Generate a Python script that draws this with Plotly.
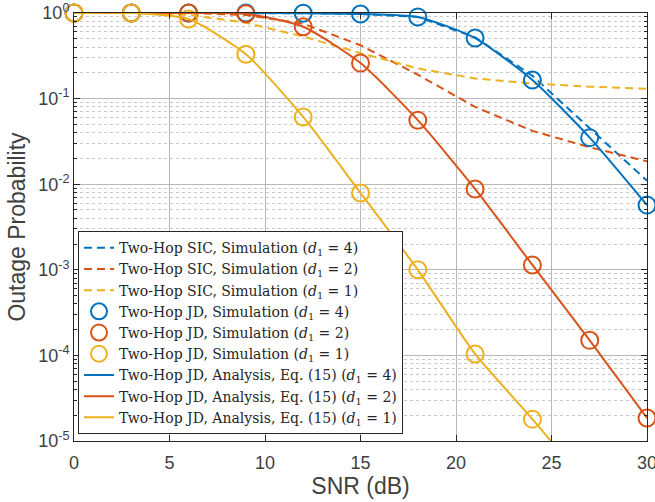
import plotly.graph_objects as go

snr = [0, 3, 6, 9, 12, 15, 18, 21, 24, 27, 30]

# Two-Hop SIC, simulation (dashed)
sic_d4 = [1, 1, 1, 1, 0.995, 0.975, 0.90, 0.52, 0.185, 0.045, 0.011]
sic_d2 = [1, 1, 1, 0.95, 0.75, 0.42, 0.19, 0.08, 0.042, 0.027, 0.0185]
sic_d1 = [1, 1, 0.95, 0.77, 0.53, 0.34, 0.225, 0.172, 0.15, 0.138, 0.13]

# Two-Hop JD, simulation (circles)
jd_sim_d4 = [1, 1, 1, 1, 0.995, 0.975, 0.90, 0.51, 0.165, 0.035, 0.0057]
jd_sim_d2 = [1, 1, 1, 0.98, 0.69, 0.26, 0.056, 0.0088, 0.00114, 0.00015, 1.86e-5]
snr_sim_d1 = [0, 3, 6, 9, 12, 15, 18, 21, 24]
jd_sim_d1 = [1, 1, 0.85, 0.33, 0.061, 0.0079, 0.001, 1.04e-4, 1.8e-5]

# Two-Hop JD, analysis Eq. (15) (solid)
jd_an_d4 = [1, 1, 1, 1, 0.995, 0.975, 0.90, 0.51, 0.165, 0.035, 0.0057]
jd_an_d2 = [1, 1, 1, 0.98, 0.69, 0.26, 0.056, 0.0088, 0.00114, 0.00015, 1.86e-5]
jd_an_d1 = [1, 1, 0.85, 0.33, 0.061, 0.0079, 0.001, 1.04e-4, 1.8e-5, 2.9e-6, 4.5e-7]

ytick_vals = [1e-5, 1e-4, 1e-3, 1e-2, 1e-1, 1]
ytick_text = ["10<sup>-5</sup>", "10<sup>-4</sup>", "10<sup>-3</sup>",
              "10<sup>-2</sup>", "10<sup>-1</sup>", "10<sup>0</sup>"]

colors = {4: "#0072BD", 2: "#D95319", 1: "#EDB120"}

def lab(kind, d):
    return f"Two-Hop {kind} (<i>d</i><sub>1</sub> = {d})"

fig = go.Figure()

for d, ys in [(4, sic_d4), (2, sic_d2), (1, sic_d1)]:
    fig.add_trace(go.Scatter(x=snr, y=ys, mode="lines",
                             line=dict(color=colors[d], width=2, dash="8px,5px"),
                             name=lab("SIC, Simulation", d)))

for d, xs, ys in [(4, snr, jd_sim_d4), (2, snr, jd_sim_d2), (1, snr_sim_d1, jd_sim_d1)]:
    fig.add_trace(go.Scatter(x=xs, y=ys, mode="markers", cliponaxis=False,
                             marker=dict(symbol="circle-open", size=17,
                                         color=colors[d], line=dict(width=2, color=colors[d])),
                             name=lab("JD, Simulation", d)))

for d, ys in [(4, jd_an_d4), (2, jd_an_d2), (1, jd_an_d1)]:
    fig.add_trace(go.Scatter(x=snr, y=ys, mode="lines",
                             line=dict(color=colors[d], width=2, shape="spline", smoothing=0.6),
                             name=lab("JD, Analysis, Eq. (15)", d)))

minor_vals = [m * 10.0 ** e for e in range(-5, 0) for m in range(2, 10)]

fig.update_layout(
    width=655, height=502,
    margin=dict(l=74, r=8, t=13, b=61),
    paper_bgcolor="white", plot_bgcolor="white",
    font=dict(family="Liberation Sans, Arial, sans-serif", color="#262626", size=15),
    showlegend=True,
    legend=dict(x=0.007, y=0.016, xanchor="left", yanchor="bottom",
                bgcolor="white", bordercolor="#262626", borderwidth=1,
                font=dict(family="DejaVu Serif, serif", size=14, color="#262626"),
                tracegroupgap=0, itemwidth=30),
)

fig.update_xaxes(
    range=[0, 30], dtick=5, tick0=0, automargin=False, ticklabeloverflow="allow",
    ticklabelstandoff=5,
    showline=True, linecolor="#262626", linewidth=1, mirror="ticks",
    ticks="inside", ticklen=6, tickcolor="#262626",
    showgrid=True, gridcolor="#b8b8b8", gridwidth=1,
    zeroline=False,
    tickfont=dict(size=18, color="#404040"),
    title=dict(text="SNR (dB)", font=dict(size=23, color="#404040"), standoff=3),
)

fig.update_yaxes(
    type="log", range=[-5, 0], automargin=False, ticklabeloverflow="allow",
    tickmode="array", tickvals=ytick_vals, ticktext=ytick_text,
    showline=True, linecolor="#262626", linewidth=1, mirror="ticks",
    ticks="inside", ticklen=6, tickcolor="#262626",
    showgrid=True, gridcolor="#b8b8b8", gridwidth=1,
    zeroline=False,
    tickfont=dict(size=18, color="#404040"),
    title=dict(text="Outage Probability", font=dict(size=23, color="#404040"), standoff=6),
    minor=dict(tickmode="array", tickvals=minor_vals, ticks="inside", ticklen=3,
               tickcolor="#262626", showgrid=True, griddash="dot",
               gridcolor="#c8c8c8", gridwidth=1),
)

fig.write_html("out.html", config={"displayModeBar": False},
               post_script="document.body.style.margin='0';")
